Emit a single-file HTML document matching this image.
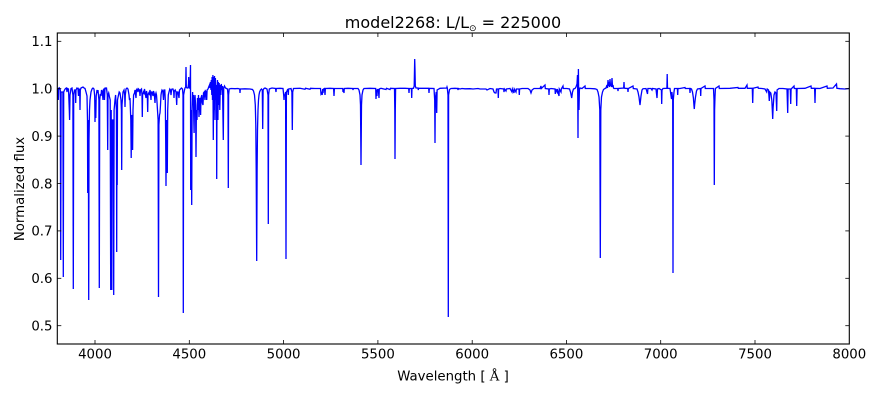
<!DOCTYPE html>
<html>
<head>
<meta charset="utf-8">
<style>
html,body{margin:0;padding:0;background:#fff;}
svg{display:block;}
text{font-family:"DejaVu Sans","Liberation Sans",sans-serif;fill:#000;}
</style>
</head>
<body>
<svg width="880" height="400" viewBox="0 0 880 400" xmlns="http://www.w3.org/2000/svg">
<rect x="0" y="0" width="880" height="400" fill="#fff"/>
<defs><clipPath id="ax"><rect x="57.3" y="33" width="792" height="311"/></clipPath></defs>

<g clip-path="url(#ax)">
<polyline fill="none" stroke="#0000ff" stroke-width="1.3" stroke-linejoin="miter" points="
57.3,90 58,89 58.3,100 58.7,89 59.5,88 60.3,90 60.7,260 61.1,92 62.9,92 63.3,277 63.7,92 64.5,90 65.5,88.5 66.5,88 67,92 67.5,88.5 68.5,89 69.3,110 69.6,120 70,95 70.5,92 71,88.5 72,88 72.9,95 73.3,289 73.7,95 74.5,90 75.4,90 75.7,103 76,90 77,88 78,89 78.5,96 79,89 79.7,90 80,110 80.3,90 81,88 82,87.5 83,87 84,88 85,88.5 86,92 87,96 87.5,120 87.7,193 88,120 88.4,140 88.7,300 89,140 89.5,110 90,100 90.5,96 91,92 92,89 93,88 94,89 94.7,96 95,122 95.3,100 95.8,118 96.2,96 97,90 97.5,93 98,90 98.9,100 99.3,288 99.7,100 100.3,94 101,96 101.5,90 102.3,92 103,100 103.3,90 104,89 104.5,100 104.9,90 105.5,88 106.5,88 107.3,95 107.7,150 108,95 108.7,93 109.5,97 110.2,100 110.7,290 111.2,110 111.8,290 112.2,120 113.3,120 113.7,295 114.1,110 115,100 115.6,95 116.4,110 116.7,252 117,110 117.2,185 117.5,100 118.5,95 119.2,92 120,93 121,100 121.4,110 121.7,170 122,105 123,92 124,90 124.7,95 125,107 125.3,95 126,89 127,88 128,89 129,95 129.5,100 130,98 130.8,120 131.2,158 131.6,115 132.2,118 132.6,150 133,110 133.6,95 134.5,93 135,90 136,98 136.4,90 137,89 138,92 138.5,89 139.5,90 140,96 140.5,90 141.5,89 142,95 142.3,117 142.6,95 143.5,92 144,93 144.5,89 145,92 146,98 146.5,91 147.3,95 147.7,112 148,95 148.8,93 149.3,94 150,90 150.7,96 151,100 151.3,92 152,92 153,96 153.5,91 154.3,94 155,103 155.4,95 156,93 156.5,95 157,102 157.6,112 158.1,120 158.5,297 158.9,125 159.5,115 160,113 160.5,105 161,95 161.5,92 162,90
162.8,91 163.5,100 164,90 164.8,90 165.3,100 165.7,140 166,186 166.4,120 166.9,130 167.3,173 167.7,110 168.3,95 169,92 169.8,89 170.5,90 171,95 171.5,90 172,89 173,89 173.7,92 174,98 174.3,91 175.2,90 176,92 176.7,105 177.1,92 178,92 179,98 179.5,90 180.5,89 181.5,88 182.5,89 183,95 183.3,313 183.6,95 184.5,90 185,88 185.7,87 186,67 186.3,87 187,88 188,88 188.5,84 188.7,77 189,87 189.7,88 190.2,80 190.5,65 190.6,130 190.7,190 191,110 191.4,140 191.7,205 192.1,110 192.6,92 193,105 193.4,95 193.8,120 194.1,133 194.5,100 195,95 195.6,105 196,157 196.4,110 197,120 197.5,98 198,110 198.5,95 199,117 199.4,100 200,98 200.6,115 201,98 201.8,95 202.3,103 203,105 203.5,93 204.2,92 205,100 205.5,91 206.3,92 206.7,100 207.1,90 208,89 208.7,87 209.5,85 210,88 210.4,82 211,90 211.3,80 211.8,95 212.1,77 212.5,100 212.9,75 213.3,140 213.7,77 214.1,110 214.5,76 215,120 215.4,78 216,100 216.5,85 216.7,179 217,95 217.5,80 217.9,120 218.3,82 218.8,105 219.2,83 219.8,110 220.3,85 220.8,95 221.3,84 222,90 222.5,86 223.3,140 223.7,88 224.5,86 225.5,88 226.5,88.5 227.5,89 228,95 228.3,188 228.6,95 229.2,89 231,88.5 235,88.7 238,88.5 239.7,89 240,93 240.3,89 245,88.8 250,89 252.5,89.5 253.5,91 254.5,95 255.3,105 255.8,125 256.2,170 256.7,261 257.1,170 257.5,130 258,110 258.5,100 259,95 259.6,92 260.5,90 261.5,89 262.3,90 262.7,129 263.1,90 264,88.5 265,88 266,88.5 267,89 268,95 268.3,224 268.6,95 269.3,89 270.5,88.5 272,88
275.5,88.5 276,92 276.3,88.5 280,88.3 283,88.5 283.7,95 284,100 284.3,95 285,95 285.6,92 286,259 286.4,92 287,91 287.8,89 288.3,95 288.6,89 291,88.5 291.9,92 292.3,130 292.7,92 293.5,88.5 300,88.3 305,89.3 305.5,88.3 310,89.3 310.5,88.3 315,88.5 320.5,88.5 321,94 321.6,93 322.2,95 322.7,89 323,93 323.4,89 324.5,88.5 325,95 325.4,88.5 330,88.3 333.6,88.5 334,96 334.4,88.5 340,88.5 342.7,88.5 343,92 343.3,89 344,93 344.3,88.5 348,88.3 352.7,88.5 353,90 353.3,88.5 358,88.5 359,90 360,95 360.5,105 361,165 361.5,105 362,95 363,90 364,88.5 370,88.3 375.7,88.5 376,99 376.3,90 377,96 377.3,89 378,92 378.3,89 379,98 379.3,89 381,88.3 386,89.5 386.5,88.3 390,89.5 390.5,88.3 394.5,88.5 394.8,110 395,159 395.3,110 395.6,88.5 400,88.3 405,88.3 408.7,88.5 409,93 409.3,88.5 411.4,88.5 411.7,98 412,88.5 413.5,88.3 414.2,86 414.5,70 414.7,59 415,70 415.3,86 416,88 418,88 418.3,90 418.6,88.3 424,88.3 428.7,88.3 429,93 429.3,88.3 434,88.5 434.7,100 435,143 435.3,100 436.2,92 436.7,113 437.1,90 440,88.3 446.7,88 447,87 447.3,88 448,95 448.3,317 448.6,95 449.5,89.5 451,88.5
455,88.3 457.7,88.5 458,90 458.3,88.5 460,89 462,88.5 465,88.8 470,88.7 473,89 478,88.5 480,89 486,89 487,90 490,88.5 493,89 494,92 495,93 496,93 496.5,89 498,89 498.3,98 498.6,89 500,88.5 503.7,89 504,92 504.4,89 506,91 506.4,89 510,88.5 512,92 512.4,89 514,93 514.3,89 516,92 516.4,89 519,89 519.3,95 519.6,89 522,88.5 528,88.5 530,90 531,93 532,90 534,88.5 540,88.5 541,86 541.3,88.5 545,85 545.3,88.5 548.7,89 549,95 549.3,89 551,88.5 555,89 555.3,94 555.6,89 557,92 557.3,89 559,96 559.3,89 561,92 561.3,89 563,86 563.3,88.5 567,88.5 569.5,89 570.5,92 571.7,98 572.5,92 573.5,89 575,88.5 576,87 577,84 577.5,75 577.8,100 578,138 578.2,90 578.4,69 578.7,95 579,110 579.4,90 580,88 582,88.5 585,86 585.3,88.5 590,88.5 595,88.8 597,89.5 598,92 599,97 599.8,110 600.3,258 600.8,110 601.5,97 602.5,92 603.5,89.5 605,88.5 606,88 607,85 607.5,88 608,80 608.5,86 609,82 609.5,87 610,79 610.5,86 611,84 611.5,87 612,78 612.5,87 613,85 613.5,88 614,88.5 617.7,88.5 618,91 618.3,88.5 623.7,88 624,82 624.3,88 625,88.3 627.7,88.5 628,92 628.3,88.5 633,86 633.3,88.5 637,89 638,92 639,97 640,105 641,96 642,90 643,88.7 646,88.5 647.5,94 647.9,88.5 651,88.5
652,90 652.5,88.5 656,89 657,98 657.5,89 659,88.5 661.4,90 661.7,104 662,90 663,88.5 666.9,88.3 667.2,74 667.5,88.3 670,88.5 671.5,99 671.9,92 672.7,100 673,273 673.3,100 674,92 674.5,88.5 677.4,88.5 677.7,95 678,88.5 680,88.5 685,87.5 685.3,88.5 689.7,88.5 690,93 690.3,88.5 691.5,89 692.5,92 693.4,98 694,106 694.3,109 694.7,104 695.5,97 696.5,91 697.5,89 700.4,88.5 700.7,96 701,88.5 705,86 705.3,88.5 713.5,88.5 714,100 714.3,185 714.6,110 715,97 715.4,88.5 719,86 719.3,88.5 730,88.3 738,87.5 738.3,88.3 745,88.3 747,85 747.3,88.3 752.3,88.3 752.7,103 753.1,88.3 758,87 758.3,88.3 762,88.5 765,89 766.7,92 767.2,89 768.5,90 769.3,101 769.8,92 770.8,93 771.8,100 772.4,112 772.7,119 773.1,108 774,95 775,92 776,93 776.7,111 777.1,90 779,88.5 783,88.5 787,89 787.7,113 788.1,89 790.3,89 790.7,104 791.1,89 794,86 794.3,88.5 796.3,88.5 796.7,106 797.1,88.5 805,88.3 811,86 811.3,88.3 814.6,88.3 815,103 815.4,88.3 820,88.5 827,86 827.3,88.3 833,88 836.5,84 836.9,88.3 840,88.7 845,89 849.3,88.5"/>
</g>

<rect x="57.3" y="33" width="792" height="311" fill="none" stroke="#000" stroke-width="1.1"/>

<g stroke="#000" stroke-width="0.8">
<line x1="95" y1="344" x2="95" y2="340"/><line x1="95" y1="33" x2="95" y2="37"/>
<line x1="189.3" y1="344" x2="189.3" y2="340"/><line x1="189.3" y1="33" x2="189.3" y2="37"/>
<line x1="283.6" y1="344" x2="283.6" y2="340"/><line x1="283.6" y1="33" x2="283.6" y2="37"/>
<line x1="377.9" y1="344" x2="377.9" y2="340"/><line x1="377.9" y1="33" x2="377.9" y2="37"/>
<line x1="472.2" y1="344" x2="472.2" y2="340"/><line x1="472.2" y1="33" x2="472.2" y2="37"/>
<line x1="566.4" y1="344" x2="566.4" y2="340"/><line x1="566.4" y1="33" x2="566.4" y2="37"/>
<line x1="660.7" y1="344" x2="660.7" y2="340"/><line x1="660.7" y1="33" x2="660.7" y2="37"/>
<line x1="755" y1="344" x2="755" y2="340"/><line x1="755" y1="33" x2="755" y2="37"/>
<line x1="57.3" y1="325.7" x2="61.3" y2="325.7"/><line x1="849.3" y1="325.7" x2="845.3" y2="325.7"/>
<line x1="57.3" y1="278.3" x2="61.3" y2="278.3"/><line x1="849.3" y1="278.3" x2="845.3" y2="278.3"/>
<line x1="57.3" y1="230.9" x2="61.3" y2="230.9"/><line x1="849.3" y1="230.9" x2="845.3" y2="230.9"/>
<line x1="57.3" y1="183.5" x2="61.3" y2="183.5"/><line x1="849.3" y1="183.5" x2="845.3" y2="183.5"/>
<line x1="57.3" y1="136.1" x2="61.3" y2="136.1"/><line x1="849.3" y1="136.1" x2="845.3" y2="136.1"/>
<line x1="57.3" y1="88.7" x2="61.3" y2="88.7"/><line x1="849.3" y1="88.7" x2="845.3" y2="88.7"/>
<line x1="57.3" y1="41.3" x2="61.3" y2="41.3"/><line x1="849.3" y1="41.3" x2="845.3" y2="41.3"/>
</g>

<g font-size="13.3" text-anchor="middle">
<text x="95" y="358.5">4000</text>
<text x="189.3" y="358.5">4500</text>
<text x="283.6" y="358.5">5000</text>
<text x="377.9" y="358.5">5500</text>
<text x="472.2" y="358.5">6000</text>
<text x="566.4" y="358.5">6500</text>
<text x="660.7" y="358.5">7000</text>
<text x="755" y="358.5">7500</text>
<text x="849.3" y="358.5">8000</text>
</g>

<g font-size="13.3" text-anchor="end">
<text x="52.5" y="330.5">0.5</text>
<text x="52.5" y="283.1">0.6</text>
<text x="52.5" y="235.7">0.7</text>
<text x="52.5" y="188.3">0.8</text>
<text x="52.5" y="140.9">0.9</text>
<text x="52.5" y="93.5">1.0</text>
<text x="52.5" y="46.1">1.1</text>
</g>

<text x="453" y="380.5" font-size="13.3" text-anchor="middle">Wavelength [ <tspan font-family="DejaVu Serif, Liberation Serif, serif">Å</tspan> ]</text>
<text transform="translate(24,189) rotate(-90)" font-size="13.3" text-anchor="middle">Normalized flux</text>

<text x="453" y="28" font-size="16" text-anchor="middle">model2268: L/L<tspan font-size="9" dy="3">⊙</tspan><tspan dy="-3"> = 225000</tspan></text>
</svg>
</body>
</html>
